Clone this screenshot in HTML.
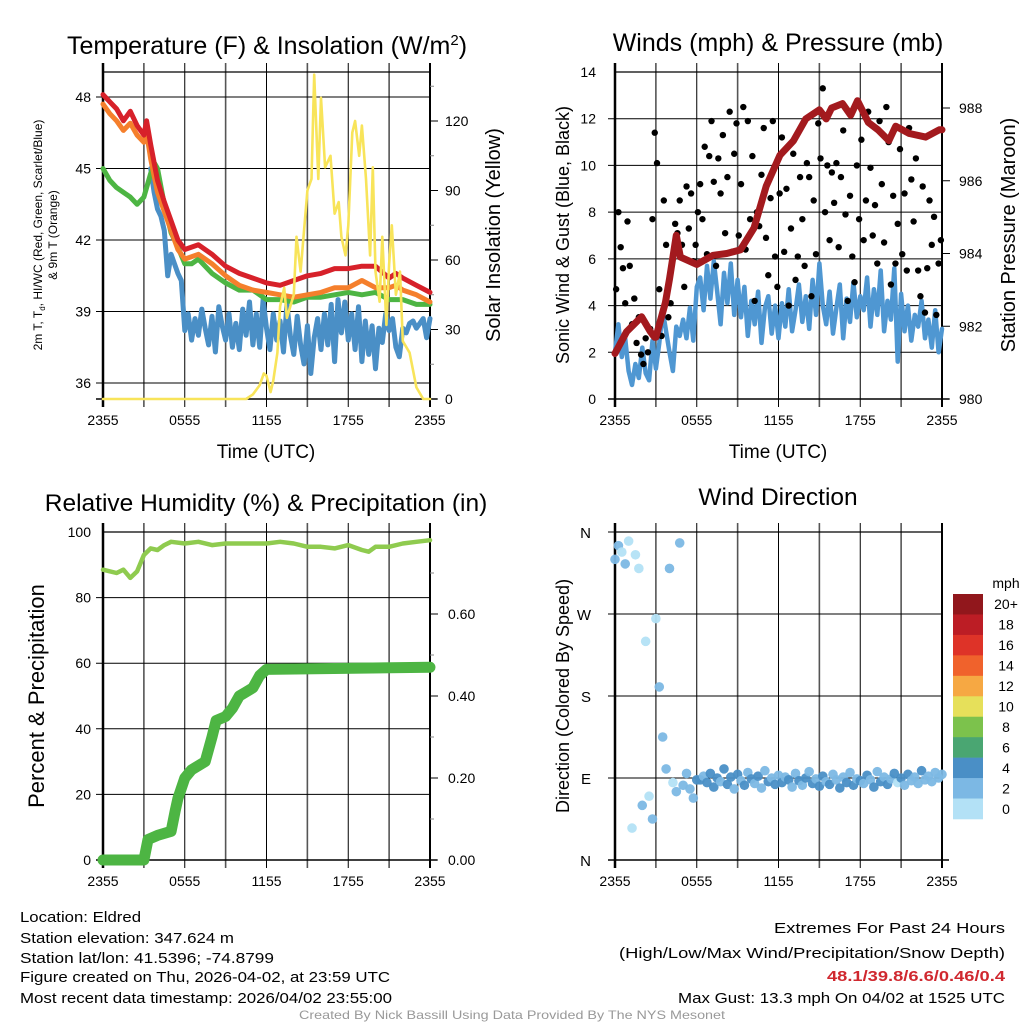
<!DOCTYPE html>
<html><head><meta charset="utf-8"><style>
html,body{margin:0;padding:0;background:#fff}
svg{display:block}
text{font-family:"Liberation Sans",Arial,sans-serif;fill:#000}
.n{font-family:"Liberation Sans Narrow","Liberation Sans",sans-serif}
</style></head><body>
<svg id="fig" width="1024" height="1024" viewBox="0 0 1024 1024" xmlns="http://www.w3.org/2000/svg">
<text x="267" y="54" font-size="25" text-anchor="middle">Temperature (F) &amp; Insolation (W/m<tspan dy="-9" font-size="15">2</tspan><tspan dy="9">)</tspan></text>
<text x="778" y="51" font-size="25" text-anchor="middle">Winds (mph) &amp; Pressure (mb)</text>
<text x="266" y="511" font-size="24.5" text-anchor="middle">Relative Humidity (%) &amp; Precipitation (in)</text>
<text x="778" y="505" font-size="24.5" text-anchor="middle">Wind Direction</text>

<g font-size="12">
<text transform="translate(42,235) rotate(-90)" text-anchor="middle">2m T, T<tspan dy="3" font-size="8">d</tspan><tspan dy="-3">, HI/WC (Red, Green, Scarlet/Blue)</tspan></text>
<text transform="translate(57,235) rotate(-90)" text-anchor="middle">&amp; 9m T (Orange)</text>
</g>
<text transform="translate(500,235) rotate(-90)" font-size="20" text-anchor="middle">Solar Insolation (Yellow)</text>
<text x="266" y="458" font-size="19" text-anchor="middle">Time (UTC)</text>
<text transform="translate(569,235) rotate(-90)" font-size="18" text-anchor="middle">Sonic Wind &amp; Gust (Blue, Black)</text>
<text transform="translate(1015,235) rotate(-90)" font-size="20" text-anchor="middle">Station Pressure (Maroon)</text>
<text x="778" y="458" font-size="19" text-anchor="middle">Time (UTC)</text>
<text transform="translate(44,696) rotate(-90)" font-size="22" text-anchor="middle">Percent &amp; Precipitation</text>
<text transform="translate(569,696) rotate(-90)" font-size="18" text-anchor="middle">Direction (Colored By Speed)</text>

<g class="n" font-size="15">
<text x="20" y="922" textLength="121" lengthAdjust="spacingAndGlyphs">Location: Eldred</text>
<text x="20" y="943" textLength="214" lengthAdjust="spacingAndGlyphs">Station elevation: 347.624 m</text>
<text x="20" y="963" textLength="254" lengthAdjust="spacingAndGlyphs">Station lat/lon: 41.5396; -74.8799</text>
<text x="20" y="982" textLength="370" lengthAdjust="spacingAndGlyphs">Figure created on Thu, 2026-04-02, at 23:59 UTC</text>
<text x="20" y="1003" textLength="372" lengthAdjust="spacingAndGlyphs">Most recent data timestamp: 2026/04/02 23:55:00</text>
</g>
<g class="n" font-size="15" text-anchor="end">
<text x="1005" y="933" textLength="231" lengthAdjust="spacingAndGlyphs">Extremes For Past 24 Hours</text>
<text x="1005" y="958" textLength="386" lengthAdjust="spacingAndGlyphs">(High/Low/Max Wind/Precipitation/Snow Depth)</text>
<text x="1005" y="981" font-weight="bold" style="fill:#d0282f" textLength="178" lengthAdjust="spacingAndGlyphs">48.1/39.8/6.6/0.46/0.4</text>
<text x="1005" y="1003" textLength="327" lengthAdjust="spacingAndGlyphs">Max Gust: 13.3 mph On 04/02 at 1525 UTC</text>
</g>
<text class="n" x="512" y="1019" font-size="12" text-anchor="middle" style="fill:#999" textLength="426" lengthAdjust="spacingAndGlyphs">Created By Nick Bassill Using Data Provided By The NYS Mesonet</text>
</svg>
<script>
// ---------- data ----------
const timeTickLabels = ["2355","0555","1155","1755","2355"];
const tempTicks = [36,39,42,45,48];
const solarTicks = [0,30,60,90,120];
const windTicks = [0,2,4,6,8,10,12,14];
const pressTicks = [980,982,984,986,988];
const rhTicks = [0,20,40,60,80,100];
const precipTicks = [0.00,0.20,0.40,0.60];
const dirTickLabels = ["N","E","S","W","N"];
const dirTickValues = [0,90,180,270,360];
const speedBins = ["0","2","4","6","8","10","12","14","16","18","20+"];
const speedColors = ["#b3e1f6","#7cb8e4","#4a8fc6","#4aa672","#7cc24c","#e6e05a","#f6a843","#f0622c","#de3328","#bc1d25","#91171c"];

const tempHours = [0,0.5,1,1.5,2,2.5,3,3.2,3.5,4,4.5,5,5.5,6,6.5,7,8,9,10,11,12,13,14,15,16,17,18,19,20,21,21.5,22,23,24];
const temp2m =    [48.1,47.8,47.5,47.0,47.4,46.8,46.4,47.0,46.0,44.5,43.6,42.8,42.0,41.6,41.7,41.8,41.4,40.9,40.6,40.4,40.2,40.1,40.3,40.5,40.6,40.8,40.8,40.9,40.9,40.4,40.6,40.4,40.1,39.8];
const temp9m =    [47.7,47.3,47.0,46.6,46.9,46.4,46.1,46.5,45.4,44.0,43.2,42.4,41.6,41.2,41.3,41.4,41.0,40.5,40.1,39.9,39.8,39.7,39.6,39.7,39.8,40.0,40.0,40.3,40.0,40.0,40.1,39.9,39.7,39.4];
const dewHours = [0,0.5,1,1.5,2,2.5,3,3.5,3.8,4,4.5,5,5.5,6,6.5,7,8,9,10,11,12,13,14,15,16,17,18,19,20,21,22,23,24];
const dewPoint = [45.0,44.5,44.2,44.0,43.8,43.5,43.8,44.8,45.2,45.0,43.5,42.3,41.7,41.0,41.0,41.2,40.6,40.2,39.9,39.9,39.5,39.5,39.4,39.6,39.6,39.7,39.8,39.7,39.8,39.5,39.5,39.3,39.3];
const hiwcStartHour = 3.5;
const hiwc = [45.0,44.0,43.3,43.0,42.4,40.5,41.4,41.0,40.6,40.3,38.2,38.9,37.8,38.7,38.0,39.1,38.3,37.6,38.8,37.3,39.2,38.4,37.8,38.9,37.5,38.5,37.4,39.1,38.0,39.4,37.6,38.9,37.5,39.5,38.3,37.4,38.9,37.8,38.6,37.3,39.3,38.0,37.2,38.8,37.6,36.8,38.4,36.4,37.9,38.7,37.4,38.9,37.6,39.3,36.9,39.5,38.1,39.4,37.8,38.9,37.4,39.2,36.9,38.6,37.2,38.4,36.6,38.3,37.7,38.9,38.2,38.7,37.5,37.1,38.3,38.1,38.5,38.6,38.3,38.5,38.7,37.9,38.7];
const solarHours = [0,10.5,11,11.5,11.8,12,12.3,12.5,12.8,13,13.3,13.5,14,14.2,14.5,15,15.3,15.5,15.8,16,16.3,16.7,17,17.3,17.5,17.8,18,18.3,18.5,18.8,19,19.3,19.6,19.8,20,20.3,20.5,20.8,21,21.2,21.5,21.8,22,22.5,23,23.5,24];
const solar = [0,0,2,6,11,10,3,8,20,40,48,35,45,70,55,90,95,140,95,130,100,105,80,85,70,62,75,115,120,105,118,95,62,100,55,42,70,32,58,75,45,55,25,20,5,0,0];

const pressHours = [0,0.85,1.95,2.6,2.9,3.0,3.7,4.0,4.5,4.8,6.0,7.2,8.2,9.2,10.2,11.1,12.1,13.1,14.0,15.0,15.5,15.9,16.7,17.3,17.8,18.6,19.3,20.1,20.6,21.6,22.8,23.8,24];
const pressure = [981.25,981.85,982.26,981.85,981.7,981.7,982.65,983.3,984.5,983.9,983.7,983.95,984.0,984.1,984.7,985.85,986.7,987.1,987.7,987.95,987.7,988.0,988.12,987.8,988.2,987.6,987.4,987.1,987.5,987.3,987.2,987.4,987.4];
const windStep = 0.25;
const sonicWind = [2.0,3.2,1.8,2.6,1.2,0.6,1.5,0.9,2.2,1.1,0.8,2.5,1.3,
2.4,3.8,2.9,2.0,1.2,3.1,2.7,3.4,2.6,3.9,2.5,4.8,
5.2,3.8,5.7,4.3,5.9,4.6,3.2,5.4,4.1,5.8,3.6,5.1,
3.5,4.8,2.7,4.2,3.2,4.6,2.4,3.9,4.4,2.8,4.0,2.6,
4.1,3.1,4.7,2.9,3.8,4.9,3.3,4.4,3.0,5.1,3.6,5.8,
4.0,3.2,4.6,2.8,3.9,4.9,2.6,4.3,3.3,5.0,3.5,4.4,
3.8,5.2,3.1,4.7,3.6,5.5,2.9,4.2,3.4,5.6,1.6,4.5,
2.9,4.0,2.5,3.6,3.1,4.2,2.6,3.4,2.2,3.8,2.0,3.0];
const gustStep = 1/6;
const gusts = [4.7,8.0,6.5,5.6,4.1,7.6,5.7,3.2,4.3,2.4,3.5,1.9,
1.5,2.6,2.0,3.0,7.7,11.4,10.1,4.7,2.7,8.5,6.6,3.5,
4.1,6.0,7.5,7.1,8.5,6.6,4.8,9.1,7.3,8.8,5.9,6.6,
8.0,9.2,7.7,10.8,6.2,10.4,11.9,9.3,5.7,10.3,8.8,11.3,
7.1,9.5,12.3,6.3,10.5,11.8,7.0,9.2,12.5,6.4,11.9,7.7,
10.4,4.2,8.0,7.4,9.6,11.6,6.9,5.3,8.6,11.9,6.1,4.8,
8.8,11.2,6.3,9.0,4.0,7.3,10.5,5.1,6.1,9.5,7.7,5.7,
10.1,9.5,4.4,8.5,6.2,11.8,10.3,13.3,8.0,10.0,6.8,9.7,
8.4,10.1,6.5,9.5,11.5,7.9,4.2,8.7,6.1,5.0,10.0,7.7,
11.1,6.8,8.5,12.3,9.9,7.0,8.3,5.8,11.9,9.2,6.7,12.5,
11.0,4.9,8.7,5.8,7.5,10.7,6.2,8.8,5.5,11.6,9.4,7.6,
10.3,5.5,4.4,9.1,3.7,5.6,8.5,6.6,7.8,3.6,5.8,6.8];

const rhHours = [0,1,1.5,2,2.5,3,3.5,4,4.5,5,6,7,8,9,10,11,12,13,14,15,16,17,18,19,19.5,20,21,22,23,24];
const rh = [88.5,87.5,88.5,86,88,93,95,94.5,96,97,96.5,97,96,96.5,96.5,96.5,96.5,97,96.5,95.5,95.5,95,96,94.5,94,95.5,95.5,96.5,97,97.5];
const precipHours = [0,3,3.3,4,5,5.3,5.5,6,6.5,7,7.5,8,8.3,9,9.5,10,10.5,11,11.5,12,24];
const precip = [0,0,0.05,0.06,0.07,0.12,0.15,0.2,0.22,0.23,0.24,0.3,0.34,0.35,0.37,0.40,0.41,0.42,0.45,0.465,0.47];

const windDir = [330,345,338,325,350,35,335,320,60,240,70,45,265,190,135,100,320,85,75,348,82,95,78,68,88,
88,92,85,95,80,90,86,100,83,91,78,94,
87,82,96,89,84,92,79,98,86,90,83,93,
85,91,88,80,95,87,82,90,97,84,89,81,
92,86,83,94,88,79,91,85,96,82,89,87,
84,93,88,80,97,86,91,83,89,95,85,90,
82,94,87,91,84,98,88,92,86,96,90,94];

// ---------- drawing ----------
const NS = "http://www.w3.org/2000/svg";
const svg = document.getElementById("fig");
function mk(tag, attrs, parent){const e=document.createElementNS(NS,tag);for(const k in attrs)e.setAttribute(k,attrs[k]);(parent||svg).appendChild(e);return e;}
function lin(d0,d1,p0,p1){return v=>p0+(v-d0)*(p1-p0)/(d1-d0);}

function panel(L,T,R,B,name,hTickYs){
  const g=mk("g",{});
  
  
  const xs=lin(0,24,L,R);
  for(let i=0;i<=8;i++){const x=xs(i*3);mk("line",{x1:x,y1:T-9,x2:x,y2:B+8,stroke:i%2?"#555":"#000","stroke-width":i%2?1.6:1},g);}
  hTickYs.forEach(y=>mk("line",{x1:L-7,y1:y,x2:R,y2:y,stroke:"#000","stroke-width":1},g));
  mk("line",{x1:L,y1:T,x2:R,y2:T,stroke:"#000","stroke-width":1.2},g);
  mk("line",{x1:L,y1:T-9,x2:L,y2:B+8,stroke:"#000","stroke-width":2.5},g);
  mk("line",{x1:R,y1:T-9,x2:R,y2:B+8,stroke:"#000","stroke-width":2},g);
  mk("line",{x1:L-7,y1:B,x2:R+7,y2:B,stroke:"#000","stroke-width":1.5},g);
  return xs;
}
function tickText(x,y,s,anchor,name,size){const t=mk("text",{x:x,y:y,"font-size":size||14,"text-anchor":anchor});t.textContent=s;return t;}
function xLabels(xs,y,name){timeTickLabels.forEach((s,i)=>tickText(xs(i*6),y,s,"middle",name));}
function poly(hours,vals,xs,ys,color,w,name){
  const pts=hours.map((h,i)=>xs(h).toFixed(1)+","+ys(vals[i]).toFixed(1)).join(" ");
  const p=mk("polyline",{points:pts,fill:"none",stroke:color,"stroke-width":w,"stroke-linejoin":"round","stroke-linecap":"round"});
  
  
  return p;
}

// Panel 1: temperature
{
  const L=103,T=72,R=430,B=399;
  const yT=lin(36,48,383,97), yS=lin(0,120,399,121);
  const xs=panel(L,T,R,B,"temperature-panel",tempTicks.map(yT));
  tempTicks.forEach(v=>tickText(L-12,yT(v)+5,String(v),"end","temperature-tick-label"));
  solarTicks.forEach(v=>{mk("line",{x1:R,y1:yS(v),x2:R+8,y2:yS(v),stroke:"#000"});tickText(R+15,yS(v)+5,String(v),"start","solar-tick-label");});
  [15,45,75,105,135].forEach(v=>mk("line",{x1:R,y1:yS(v),x2:R+4,y2:yS(v),stroke:"#888"}));
  xLabels(xs,425,"temperature-time-tick-label");
  const hw=hiwc.map((v,i)=>hiwcStartHour+i*0.25);
  poly(hw,hiwc,xs,yT,"#4a8fc6",5,"hiwc-line");
  poly(dewHours,dewPoint,xs,yT,"#4db543",5,"dewpoint-line");
  poly(tempHours,temp9m,xs,yT,"#f57f2c",5,"temp-9m-line");
  poly(tempHours,temp2m,xs,yT,"#d7212a",5,"temp-2m-line");
  poly(solarHours,solar,xs,yS,"#f8e45a",2.6,"solar-insolation-line");
}
// Panel 2: winds
{
  const L=615,T=72,R=942,B=399;
  const yW=lin(0,14,399,72), yP=lin(980,988,399,108);
  const xs=panel(L,T,R,B,"wind-panel",windTicks.slice(1,-1).map(yW));
  windTicks.forEach(v=>tickText(L-19,yW(v)+5,String(v),"end","wind-tick-label"));
  pressTicks.forEach(v=>{mk("line",{x1:R,y1:yP(v),x2:R+8,y2:yP(v),stroke:"#000"});tickText(R+17,yP(v)+5,String(v),"start","pressure-tick-label");});
  xLabels(xs,425,"wind-time-tick-label");
  poly(sonicWind.map((v,i)=>i*windStep),sonicWind,xs,yW,"#4f97d2",4.5,"sonic-wind-line");
  gusts.forEach((v,i)=>{const c=mk("circle",{cx:xs(gustStep/2+i*gustStep),cy:yW(v),r:3.2,fill:"#000"});
    
    });
  poly(pressHours,pressure,xs,yP,"#a31a1e",7,"pressure-line");
}
// Panel 3: humidity & precip
{
  const L=103,T=532,R=430,B=860;
  const yR=lin(0,100,860,532), yP=lin(0,0.8,860,532);
  const xs=panel(L,T,R,B,"humidity-panel",rhTicks.slice(0,-1).map(yR));
  rhTicks.forEach(v=>tickText(L-12,yR(v)+5,String(v),"end","humidity-tick-label"));
  precipTicks.forEach(v=>{mk("line",{x1:R,y1:yP(v),x2:R+8,y2:yP(v),stroke:"#000"});tickText(R+18,yP(v)+5,v.toFixed(2),"start","precip-tick-label");});
  [0.1,0.3,0.5,0.7].forEach(v=>mk("line",{x1:R,y1:yP(v),x2:R+4,y2:yP(v),stroke:"#888"}));
  xLabels(xs,886,"humidity-time-tick-label");
  poly(precipHours,precip,xs,yP,"#4db543",11,"precipitation-line");
  poly(rhHours,rh,xs,yR,"#8fcb4f",4.5,"humidity-line");
}
// Panel 4: wind direction
{
  const L=615,T=532,R=942,B=860;
  const yD=lin(0,360,860,532);
  const xs=panel(L,T,R,B,"wind-direction-panel",dirTickValues.map(yD));
  dirTickValues.forEach((v,i)=>tickText(L-24,yD(v)+6,dirTickLabels[i],"end","direction-tick-label",15));
  xLabels(xs,886,"direction-time-tick-label");
  windDir.forEach((d,i)=>{const sp=sonicWind[i];const b=Math.min(10,Math.floor(sp/2));
    const c=mk("circle",{cx:xs(i*windStep),cy:yD(d),r:4.8,fill:speedColors[b],opacity:0.95});
    
    });
  const cb=mk("g",{});
  
  
  const bh=225/11;
  speedBins.forEach((s,i)=>{const k=10-i;const y=594+i*bh;
    mk("rect",{x:953,y:y,width:30,height:bh+0.3,fill:speedColors[k]},cb);
    const t=mk("text",{x:1006,y:y+bh/2+5,"font-size":14,"text-anchor":"middle"},cb);t.textContent=speedBins[k];});
  const u=mk("text",{x:1006,y:588,"font-size":14,"text-anchor":"middle"},cb);u.textContent="mph";
}
</script>
</body></html>
